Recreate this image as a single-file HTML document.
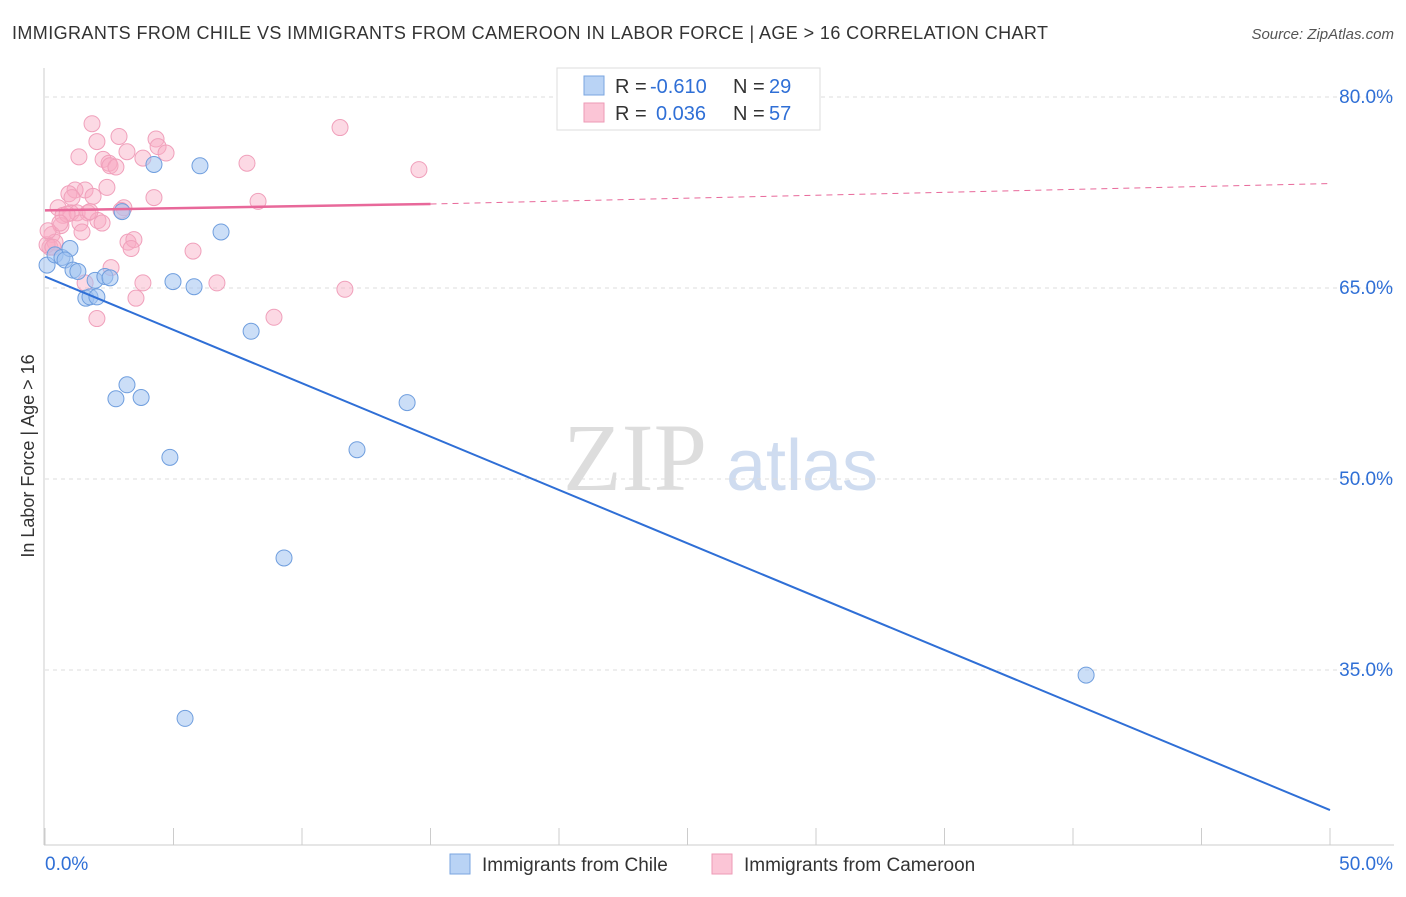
<!DOCTYPE html>
<html><head><meta charset="utf-8"><style>
body{margin:0;background:#fff;font-family:"Liberation Sans",sans-serif}
#w{position:relative;width:1406px;height:892px}
</style></head><body><div id="w">
<svg id="s" width="1406" height="892" xmlns="http://www.w3.org/2000/svg">
<text x="12" y="39" font-size="18" fill="#333" textLength="1036">IMMIGRANTS FROM CHILE VS IMMIGRANTS FROM CAMEROON IN LABOR FORCE | AGE &gt; 16 CORRELATION CHART</text>
<text x="1394" y="39" font-size="15" fill="#555" font-style="italic" text-anchor="end">Source: ZipAtlas.com</text>
<text x="635" y="490" font-size="96" fill="#ddd" font-family="Liberation Serif,serif" text-anchor="middle">ZIP</text>
<text x="802" y="490" font-size="72" fill="#cfdcf0" text-anchor="middle">atlas</text>
<text transform="translate(34,456) rotate(-90)" font-size="18" fill="#333" text-anchor="middle">In Labor Force | Age &gt; 16</text>
<g id="grid"></g><g id="pts"></g><g id="lines"></g>
<g>
<rect x="557" y="68" width="263" height="62" fill="#fff" stroke="#ddd"/>
<rect x="584" y="76" width="20" height="19" fill="#b9d3f5" stroke="#7aa6e0"/>
<rect x="584" y="103" width="20" height="19" fill="#fbc5d6" stroke="#ee9ab6"/>
<text x="615" y="93" font-size="20" fill="#333">R =</text><text x="650" y="93" font-size="20" fill="#2f6fd6">-0.610</text>
<text x="733" y="93" font-size="20" fill="#333">N =</text><text x="769" y="93" font-size="20" fill="#2f6fd6">29</text>
<text x="615" y="120" font-size="20" fill="#333">R =</text><text x="656" y="120" font-size="20" fill="#2f6fd6">0.036</text>
<text x="733" y="120" font-size="20" fill="#333">N =</text><text x="769" y="120" font-size="20" fill="#2f6fd6">57</text>
</g>
<g>
<rect x="450" y="854" width="20" height="20" fill="#b9d3f5" stroke="#7aa6e0"/>
<text x="482" y="871" font-size="19" fill="#333">Immigrants from Chile</text>
<rect x="712" y="854" width="20" height="20" fill="#fbc5d6" stroke="#ee9ab6"/>
<text x="744" y="871" font-size="19" fill="#333">Immigrants from Cameroon</text>
</g>
</svg></div>
<script>
const yTicks=[80,65,50,35];
const xTickLabels=["0.0%","50.0%"];
const chileX=[0.08,0.39,0.66,0.97,0.78,1.09,1.28,1.59,1.75,2.02,1.95,2.33,2.53,3.0,4.24,6.03,6.85,4.98,5.8,8.02,3.19,2.76,3.74,4.86,12.14,14.09,9.3,5.45,40.51];
const chileY=[66.8,67.6,67.4,68.1,67.2,66.4,66.3,64.2,64.3,64.3,65.6,65.9,65.8,71.0,74.7,74.6,69.4,65.5,65.1,61.6,57.4,56.3,56.4,51.7,52.3,56.0,43.8,31.2,34.6];
const camX=[1.83,2.88,4.32,11.48,1.32,2.26,2.49,3.19,3.81,4.4,4.71,2.53,2.76,7.86,14.55,2.02,2.41,1.56,1.17,0.93,1.05,1.87,4.24,8.29,3.07,0.51,0.7,1.01,1.25,1.67,2.06,1.36,0.62,1.44,0.27,0.19,0.39,0.08,3.23,3.46,3.35,5.76,2.57,1.56,2.02,3.81,3.54,6.69,11.67,8.91,2.96,0.86,1.75,0.58,2.22,0.12,0.31];
const camY=[77.9,76.9,76.7,77.6,75.3,75.1,74.8,75.7,75.2,76.1,75.6,74.6,74.5,74.8,74.3,76.5,72.9,72.7,72.7,72.4,72.1,72.2,72.1,71.8,71.3,71.3,70.7,70.9,70.9,70.9,70.3,70.1,69.9,69.4,69.2,68.2,68.6,68.4,68.6,68.8,68.1,67.9,66.6,65.4,62.6,65.4,64.2,65.4,64.9,62.7,71.1,70.8,71.0,70.1,70.1,69.5,68.2];
const X=v=>45+v/50*1285, Y=v=>97+(80-v)*191/15;
const NS="http://www.w3.org/2000/svg";
function mk(tag,a,parent){const e=document.createElementNS(NS,tag);for(const k in a)e.setAttribute(k,a[k]);document.getElementById(parent).appendChild(e);return e;}
yTicks.forEach(t=>{
 const l=mk('line',{x1:45,x2:1394,y1:Y(t),y2:Y(t),stroke:'#ddd','stroke-dasharray':'4,4'},'grid');
 
 
 const tx=mk('text',{x:1393,y:Y(t)+6,'font-size':19,fill:'#2f6fd6','text-anchor':'end'},'grid');tx.textContent=t.toFixed(1)+'%';
 
 
});
mk('line',{x1:44,x2:44,y1:68,y2:845,stroke:'#ccc'},'grid');
mk('line',{x1:44,x2:1394,y1:845,y2:845,stroke:'#ccc'},'grid');
for(let i=0;i<=10;i++){mk('line',{x1:X(i*5),x2:X(i*5),y1:828,y2:845,stroke:'#ccc'},'grid');}
[[0,45,'start'],[50,1393,'end']].forEach((d,i)=>{const t=mk('text',{x:d[1],y:870,'font-size':19,fill:'#2f6fd6','text-anchor':d[2]},'grid');t.textContent=xTickLabels[i];
 
 });
camX.forEach((v,i)=>{const c=mk('circle',{cx:X(v),cy:Y(camY[i]),r:8,fill:'rgba(248,170,196,0.45)',stroke:'#f0a0bb'},'pts');
 
 });
chileX.forEach((v,i)=>{const c=mk('circle',{cx:X(v),cy:Y(chileY[i]),r:8,fill:'rgba(160,195,240,0.55)',stroke:'#6f9ede'},'pts');
 
 });
const bl=mk('line',{x1:X(0),y1:Y(65.9),x2:X(50),y2:Y(24.0),stroke:'#2f6fd6','stroke-width':2},'lines');


const pl=mk('line',{x1:X(0),y1:Y(71.1),x2:X(15),y2:Y(71.6),stroke:'#e8689a','stroke-width':2.5},'lines');


const pd=mk('line',{x1:X(15),y1:Y(71.6),x2:X(50),y2:Y(73.2),stroke:'#e8689a','stroke-width':1,'stroke-dasharray':'6,5'},'lines');


</script></body></html>
